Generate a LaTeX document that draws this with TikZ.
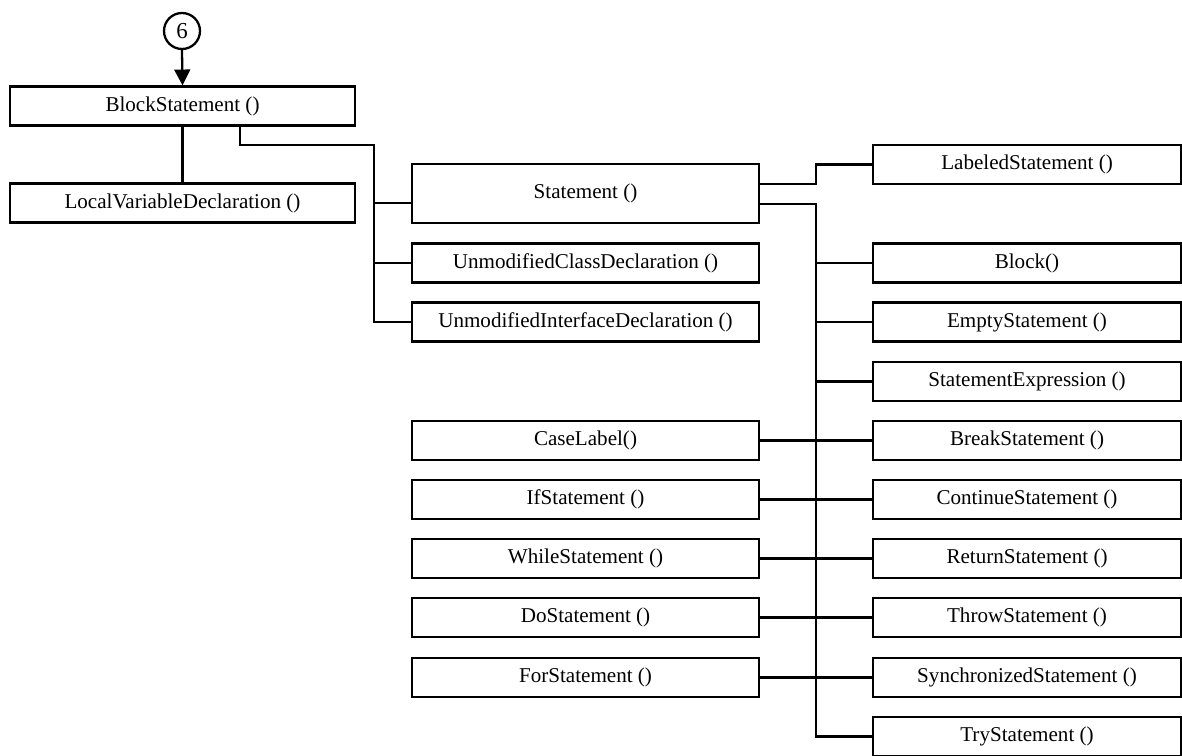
\documentclass[tikz,border=0pt]{standalone}
\usepackage{fontspec}
\setmainfont{Liberation Serif}
\usetikzlibrary{arrows.meta}
\begin{document}
\begin{tikzpicture}[x=0.02cm,y=-0.02cm,line width=1.3pt,
  every node/.style={font=\fontsize{12pt}{14pt}\selectfont},
  box/.style={draw,rectangle,inner sep=0pt,minimum height=0.78cm},
  lbox/.style={box,minimum width=6.94cm},
  rbox/.style={box,minimum width=6.16cm},
  arr/.style={-{Triangle[length=9pt,width=9pt]}}]
\useasboundingbox (0,0) rectangle (1182,756);

% entry connector and top-level block
\node[draw,circle,minimum size=0.72cm,inner sep=0pt,font=\fontsize{13pt}{15pt}\selectfont] (c6) at (182,31) {6};
\node[box,minimum width=6.9cm] (bs) at (182.5,106) {BlockStatement ()};
\node[box,minimum width=6.9cm] (lvd) at (182.5,203) {LocalVariableDeclaration ()};

% middle column
\node[lbox,minimum height=1.18cm] (st) at (585.5,193.5) {Statement ()};
\node[lbox] (ucd) at (585.5,263) {UnmodifiedClassDeclaration ()};
\node[lbox] (uid) at (585.5,322) {UnmodifiedInterfaceDeclaration ()};
\node[lbox] (cl) at (585.5,440.5) {CaseLabel()};
\node[lbox] (ifs) at (585.5,499.5) {IfStatement ()};
\node[lbox] (whs) at (585.5,558.5) {WhileStatement ()};
\node[lbox] (dos) at (585.5,617.5) {DoStatement ()};
\node[lbox] (fos) at (585.5,677.5) {ForStatement ()};

% right column
\node[rbox] (lab) at (1027,164.5) {LabeledStatement ()};
\node[rbox] (blk) at (1027,263) {Block()};
\node[rbox] (emp) at (1027,322) {EmptyStatement ()};
\node[rbox] (sex) at (1027,381.5) {StatementExpression ()};
\node[rbox] (brk) at (1027,440.5) {BreakStatement ()};
\node[rbox] (con) at (1027,499.5) {ContinueStatement ()};
\node[rbox] (ret) at (1027,558.5) {ReturnStatement ()};
\node[rbox] (thr) at (1027,617.5) {ThrowStatement ()};
\node[rbox] (syn) at (1027,677.5) {SynchronizedStatement ()};
\node[rbox] (try) at (1027,736.5) {TryStatement ()};

% bus coordinates
\coordinate (busL) at (374,145);
\coordinate (busR) at (816,204);

% connectors
\draw[arr] (c6.south) -- (bs.north);
\draw (bs.south) -- (lvd.north);
\draw ([xshift=1.15cm]bs.south) |- (busL) |- (uid.west);
\draw (busL |- ucd.west) -- (ucd.west);
\draw ([yshift=-0.19cm]st.west -| busL) -- ([yshift=-0.19cm]st.west);

\draw ([yshift=0.19cm]st.east) -| (busR |- lab.west) -- (lab.west);
\draw ([yshift=-0.21cm]st.east) -| (busR |- try.west) -- (try.west);
\foreach \n in {blk,emp,sex,brk,con,ret,thr,syn}
  \draw (busR |- \n.west) -- (\n.west);

\draw (cl.east) -- (brk.west);
\draw (ifs.east) -- (con.west);
\draw (whs.east) -- (ret.west);
\draw (dos.east) -- (thr.west);
\draw (fos.east) -- (syn.west);
\end{tikzpicture}
\end{document}
